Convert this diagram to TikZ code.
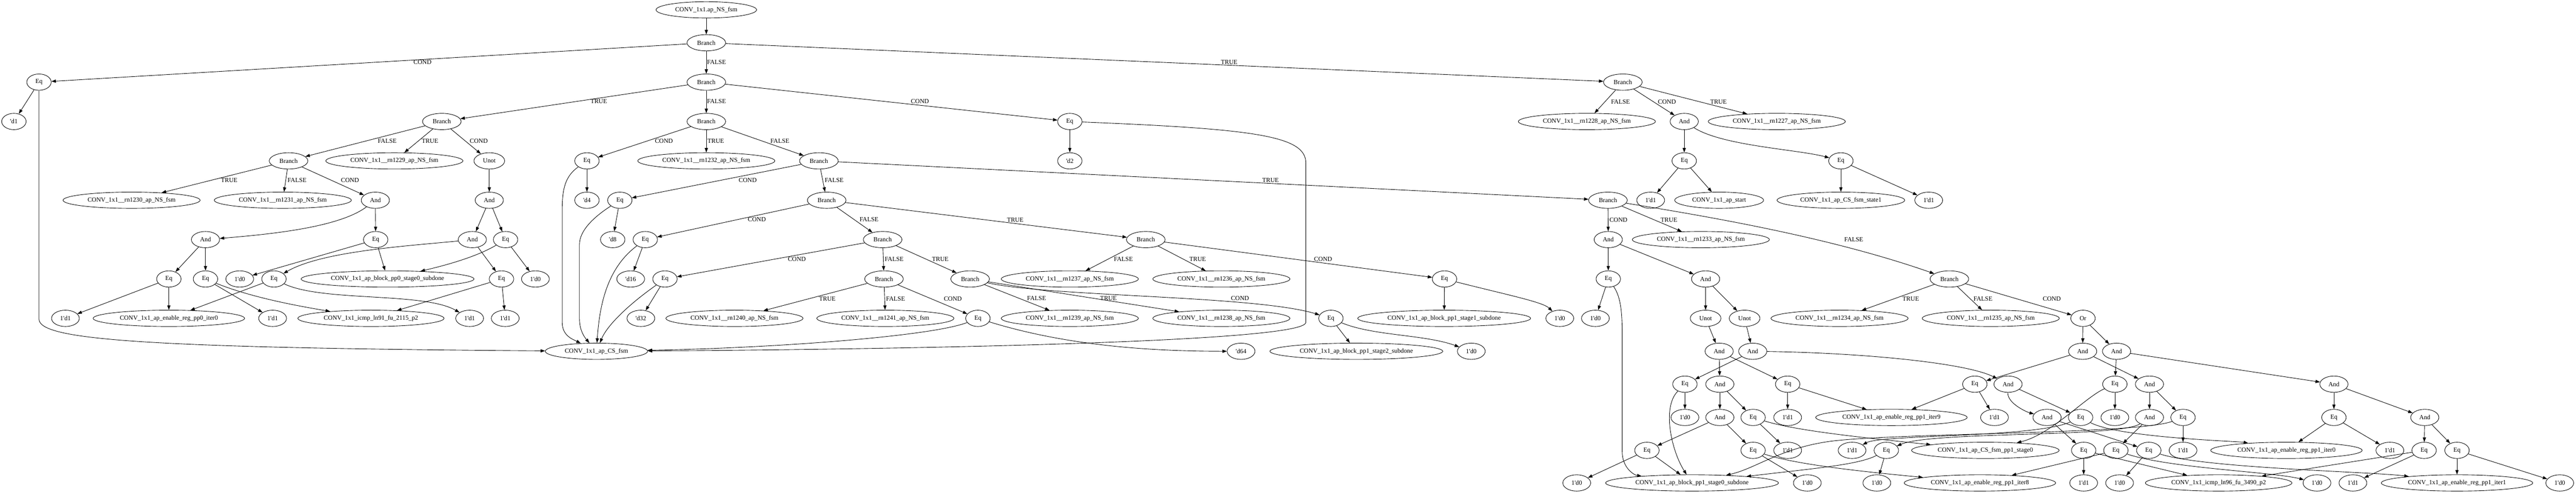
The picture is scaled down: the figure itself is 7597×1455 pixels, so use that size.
\documentclass[tikz,border=0pt]{standalone}
\usepackage{fontspec}
\setmainfont{Liberation Serif}
\usetikzlibrary{arrows.meta, shapes.geometric}
\tikzset{
    gv/.style={draw, ellipse, line width=1pt, minimum width=54pt, minimum height=36pt,
        inner xsep=10pt, inner ysep=3pt, font=\fontsize{14pt}{16.8pt}\selectfont},
    gvedge/.style={-{Triangle[length=10pt,width=7pt]}, line width=1pt},
    gvlab/.style={inner sep=0pt, font=\fontsize{14pt}{16.8pt}\selectfont}
}
\newcommand{\tq}{\textquotesingle}

\begin{document}
\begin{tikzpicture}[x=0.75pt, y=-0.75pt]
    \useasboundingbox (0,0) rectangle (7597,1455);
    % ranks 0-3
    \node[gv] (top) at (2083,29) {CONV\_1x1.ap\_NS\_fsm};
    \node[gv] (b1) at (2083,126) {Branch};
    \node[gv] (eqA) at (115,242) {Eq};
    \node[gv] (b2) at (2083,242) {Branch};
    \node[gv] (b3) at (4786,242) {Branch};
    \node[gv] (dA) at (41,358) {\tq d1};
    \node[gv] (b4) at (1303,358) {Branch};
    \node[gv] (b5) at (2083,358) {Branch};
    \node[gv] (eqB) at (3155,358) {Eq};
    \node[gv] (nsA) at (4680,358) {CONV\_1x1\_\_rn1228\_ap\_NS\_fsm};
    \node[gv] (andA) at (4967,358) {And};
    \node[gv] (nsB) at (5240,358) {CONV\_1x1\_\_rn1227\_ap\_NS\_fsm};
    % rank 4
    \node[gv] (b6) at (851,474) {Branch};
    \node[gv] (nsC) at (1163,474) {CONV\_1x1\_\_rn1229\_ap\_NS\_fsm};
    \node[gv] (unA) at (1443,474) {Unot};
    \node[gv] (eqC) at (1731,474) {Eq};
    \node[gv] (nsD) at (2083,474) {CONV\_1x1\_\_rn1232\_ap\_NS\_fsm};
    \node[gv] (b7) at (2415,474) {Branch};
    \node[gv] (dB) at (3155,474) {\tq d2};
    \node[gv] (eqD) at (4967,474) {Eq};
    \node[gv] (eqE) at (5429,474) {Eq};
    % rank 5
    \node[gv] (nsE) at (388,590) {CONV\_1x1\_\_rn1230\_ap\_NS\_fsm};
    \node[gv] (nsF) at (834,590) {CONV\_1x1\_\_rn1231\_ap\_NS\_fsm};
    \node[gv] (andB) at (1107,590) {And};
    \node[gv] (andC) at (1443,590) {And};
    \node[gv] (dC) at (1731,590) {\tq d4};
    \node[gv] (eqF) at (1828,590) {Eq};
    \node[gv] (b8) at (2438,590) {Branch};
    \node[gv] (b9) at (4742,590) {Branch};
    \node[gv] (cA) at (4868,590) {1\tq d1};
    \node[gv] (sA) at (5070,590) {CONV\_1x1\_ap\_start};
    \node[gv] (sB) at (5429,590) {CONV\_1x1\_ap\_CS\_fsm\_state1};
    \node[gv] (cB) at (5688,590) {1\tq d1};
    % rank 6
    \node[gv] (andD) at (606,706) {And};
    \node[gv] (eqG) at (1108,706) {Eq};
    \node[gv] (andE) at (1393,706) {And};
    \node[gv] (eqH) at (1491,706) {Eq};
    \node[gv] (dD) at (1807,706) {\tq d8};
    \node[gv] (eqI) at (1903,706) {Eq};
    \node[gv] (b10) at (2603,706) {Branch};
    \node[gv] (b11) at (3379,706) {Branch};
    \node[gv] (andF) at (4743,706) {And};
    \node[gv] (nsG) at (5016,706) {CONV\_1x1\_\_rn1233\_ap\_NS\_fsm};
    % rank 7
    \node[gv] (eqJ) at (498,822) {Eq};
    \node[gv] (eqK) at (606,822) {Eq};
    \node[gv] (cC) at (707,822) {1\tq d0};
    \node[gv] (eqL) at (808,822) {Eq};
    \node[gv] (sC) at (1143,822) {CONV\_1x1\_ap\_block\_pp0\_stage0\_subdone};
    \node[gv] (eqM) at (1479,822) {Eq};
    \node[gv] (cD) at (1579,822) {1\tq d0};
    \node[gv] (dE) at (1860,822) {\tq d16};
    \node[gv] (eqN) at (1961,822) {Eq};
    \node[gv] (b12) at (2607,822) {Branch};
    \node[gv] (b13) at (2861,822) {Branch};
    \node[gv] (nsH) at (3155,822) {CONV\_1x1\_\_rn1237\_ap\_NS\_fsm};
    \node[gv] (nsI) at (3602,822) {CONV\_1x1\_\_rn1236\_ap\_NS\_fsm};
    \node[gv] (eqO) at (4260,822) {Eq};
    \node[gv] (eqP) at (4743,822) {Eq};
    \node[gv] (andG) at (5030,822) {And};
    \node[gv] (b14) at (5749,822) {Branch};
    % rank 8
    \node[gv] (cE) at (193,938) {1\tq d1};
    \node[gv] (sD) at (498,938) {CONV\_1x1\_ap\_enable\_reg\_pp0\_iter0};
    \node[gv] (cF) at (804,938) {1\tq d1};
    \node[gv] (sE) at (1094,938) {CONV\_1x1\_icmp\_ln91\_fu\_2115\_p2};
    \node[gv] (cG) at (1385,938) {1\tq d1};
    \node[gv] (cH) at (1490,938) {1\tq d1};
    \node[gv] (dF) at (1890,938) {\tq d32};
    \node[gv] (nsJ) at (2166,938) {CONV\_1x1\_\_rn1240\_ap\_NS\_fsm};
    \node[gv] (nsK) at (2611,938) {CONV\_1x1\_\_rn1241\_ap\_NS\_fsm};
    \node[gv] (eqQ) at (2884,938) {Eq};
    \node[gv] (nsL) at (3155,938) {CONV\_1x1\_\_rn1239\_ap\_NS\_fsm};
    \node[gv] (nsM) at (3602,938) {CONV\_1x1\_\_rn1238\_ap\_NS\_fsm};
    \node[gv] (eqR) at (3925,938) {Eq};
    \node[gv] (sF) at (4259,938) {CONV\_1x1\_ap\_block\_pp1\_stage1\_subdone};
    \node[gv] (cI) at (4600,938) {1\tq d0};
    \node[gv] (cJ) at (4705,938) {1\tq d0};
    \node[gv] (unB) at (5030,938) {Unot};
    \node[gv] (unC) at (5145,938) {Unot};
    \node[gv] (nsN) at (5425,938) {CONV\_1x1\_\_rn1234\_ap\_NS\_fsm};
    \node[gv] (nsO) at (5871,938) {CONV\_1x1\_\_rn1235\_ap\_NS\_fsm};
    \node[gv] (orA) at (6143,938) {Or};
    % rank 9
    \node[gv] (sG) at (1759,1035) {CONV\_1x1\_ap\_CS\_fsm};
    \node[gv] (dG) at (3660,1035) {\tq d64};
    \node[gv] (sH) at (4000,1035) {CONV\_1x1\_ap\_block\_pp1\_stage2\_subdone};
    \node[gv] (cK) at (4339,1035) {1\tq d0};
    \node[gv] (andH) at (5070,1035) {And};
    \node[gv] (andI) at (5169,1035) {And};
    \node[gv] (andJ) at (6142,1035) {And};
    \node[gv] (andK) at (6242,1035) {And};
    % rank 10
    \node[gv] (eqS) at (4969,1132) {Eq};
    \node[gv] (andL) at (5072,1132) {And};
    \node[gv] (eqT) at (5272,1132) {Eq};
    \node[gv] (eqU) at (5824,1132) {Eq};
    \node[gv] (andM) at (5922,1132) {And};
    \node[gv] (eqV) at (6237,1132) {Eq};
    \node[gv] (andN) at (6339,1132) {And};
    \node[gv] (andO) at (6883,1132) {And};
    % rank 11
    \node[gv] (cL) at (4969,1230) {1\tq d0};
    \node[gv] (andP) at (5072,1230) {And};
    \node[gv] (eqW) at (5170,1230) {Eq};
    \node[gv] (cM) at (5272,1230) {1\tq d1};
    \node[gv] (sI) at (5578,1230) {CONV\_1x1\_ap\_enable\_reg\_pp1\_iter9};
    \node[gv] (cN) at (5882,1230) {1\tq d1};
    \node[gv] (andQ) at (6037,1230) {And};
    \node[gv] (eqX) at (6136,1230) {Eq};
    \node[gv] (cO) at (6237,1230) {1\tq d0};
    \node[gv] (andR) at (6339,1230) {And};
    \node[gv] (eqY) at (6438,1230) {Eq};
    \node[gv] (eqZ) at (6883,1230) {Eq};
    \node[gv] (andS) at (7151,1230) {And};
    % rank 12
    \node[gv] (eqAA) at (4857,1327) {Eq};
    \node[gv] (eqAB) at (5170,1327) {Eq};
    \node[gv] (cP) at (5272,1327) {1\tq d1};
    \node[gv] (cQ) at (5462,1327) {1\tq d1};
    \node[gv] (eqAC) at (5563,1327) {Eq};
    \node[gv] (sJ) at (5855,1327) {CONV\_1x1\_ap\_CS\_fsm\_pp1\_stage0};
    \node[gv] (eqAD) at (6145,1327) {Eq};
    \node[gv] (eqAE) at (6240,1327) {Eq};
    \node[gv] (eqAF) at (6337,1327) {Eq};
    \node[gv] (cR) at (6438,1327) {1\tq d1};
    \node[gv] (sK) at (6743,1327) {CONV\_1x1\_ap\_enable\_reg\_pp1\_iter0};
    \node[gv] (cS) at (7048,1327) {1\tq d1};
    \node[gv] (eqAG) at (7149,1327) {Eq};
    \node[gv] (eqAH) at (7246,1327) {Eq};
    % rank 13
    \node[gv] (cT) at (4650,1423) {1\tq d0};
    \node[gv] (sL) at (4990,1423) {CONV\_1x1\_ap\_block\_pp1\_stage0\_subdone};
    \node[gv] (cU) at (5330,1423) {1\tq d0};
    \node[gv] (cV) at (5535,1423) {1\tq d0};
    \node[gv] (sM) at (5839,1423) {CONV\_1x1\_ap\_enable\_reg\_pp1\_iter8};
    \node[gv] (cW) at (6145,1423) {1\tq d1};
    \node[gv] (cX) at (6251,1423) {1\tq d0};
    \node[gv] (sN) at (6543,1423) {CONV\_1x1\_icmp\_ln96\_fu\_3490\_p2};
    \node[gv] (cY) at (6833,1423) {1\tq d0};
    \node[gv] (cZ) at (6939,1423) {1\tq d1};
    \node[gv] (sO) at (7246,1423) {CONV\_1x1\_ap\_enable\_reg\_pp1\_iter1};
    \node[gv] (cAA) at (7549,1423) {1\tq d0};

    % edge labels
    \foreach \x/\y/\t [count=\i] in {1246/183/COND, 2113/183/FALSE, 3625/183/TRUE,
        1766/299/TRUE, 2113/299/FALSE, 2713/299/COND,
        4779/300/FALSE, 4916/300/COND, 5068/300/TRUE,
        1142/415/FALSE, 1268/415/TRUE, 1412/415/COND,
        1958/415/COND, 2111/415/TRUE, 2300/415/FALSE,
        676/531/TRUE, 876/531/FALSE, 1032/531/COND,
        2205/531/COND, 2460/531/FALSE, 3747/531/TRUE,
        2232/647/COND, 2563/647/FALSE, 2994/648/TRUE,
        4773/648/COND, 4922/648/TRUE, 5467/705/FALSE,
        2350/763/COND, 2637/763/FALSE, 2773/763/TRUE,
        3313/764/FALSE, 3532/764/TRUE, 3902/764/COND,
        2440/880/TRUE, 2641/880/FALSE, 2810/880/COND,
        3057/879/FALSE, 3269/879/TRUE, 3657/879/COND,
        5635/880/TRUE, 5848/880/FALSE, 6051/880/COND}
        \node[gvlab] (lab\i) at (\x,\y) {\t};

    % straight edges
    \foreach \a/\b in {top/b1, b1/eqA, b1/b2, b1/b3, eqA/dA, b2/b4, b2/b5, b2/eqB,
        b4/b6, b4/nsC, b4/unA, b5/eqC, b5/nsD, b5/b7, eqB/dB, b3/nsA, b3/andA, b3/nsB,
        andA/eqD, eqD/cA, eqD/sA, eqE/sB, eqE/cB, b6/nsE, b6/nsF, b6/andB, unA/andC,
        eqC/dC, b7/eqF, b7/b8, b7/b9, andB/eqG, andC/andE, andC/eqH, eqF/dD,
        b8/eqI, b8/b10, b8/b11, b9/andF, b9/nsG, andD/eqJ, andD/eqK, eqG/cC, eqG/sC,
        andE/eqM, eqH/cD, eqI/dE, b10/eqN, b10/b12, b10/b13, b11/nsH, b11/nsI, b11/eqO,
        andF/eqP, andF/andG, eqJ/cE, eqJ/sD, eqK/cF, eqL/sD, eqM/sE, eqM/cH, eqN/dF,
        b12/nsJ, b12/nsK, b12/eqQ, b13/nsL, b13/nsM, eqO/sF, eqP/cJ, andG/unB, andG/unC,
        b14/nsN, b14/nsO, b14/orA, eqR/sH, unB/andH, unC/andI, orA/andJ, orA/andK,
        andH/andL, andH/eqT, andI/eqS, andJ/eqU, andJ/andN, andK/eqV, andK/andO,
        eqS/cL, andL/andP, andL/eqW, eqT/cM, eqT/sI, eqU/sI, eqU/cN, andM/eqX, eqV/cO,
        andN/andR, andN/eqY, andO/eqZ, andO/andS, andP/eqAA, andP/eqAB, eqW/cP,
        andQ/eqAD, andQ/eqAF, andR/eqAE, eqY/cR, eqZ/sK, eqZ/cS, andS/eqAG, andS/eqAH,
        eqAA/cT, eqAA/sL, eqAB/cU, eqAC/cV, eqAD/cW, eqAD/sN, eqAE/sM, eqAF/cX,
        eqAG/sN, eqAG/cZ, eqAH/sO, eqAH/cAA}
        \draw[gvedge] (\a) -- (\b);

    % curved edges
    \draw[gvedge] (andA) .. controls (5080,430) and (5300,440) .. (eqE);
    \draw[gvedge] (b9) .. controls (5050,640) and (5400,700) .. (b14);
    \draw[gvedge] (andB) .. controls (1000,670) and (800,690) .. (andD);
    \draw[gvedge] (andE) .. controls (1200,725) and (950,740) .. (eqL);
    \draw[gvedge] (eqH) .. controls (1400,760) and (1300,785) .. (sC);
    \draw[gvedge] (eqK) .. controls (750,880) and (900,905) .. (sE);
    \draw[gvedge] (eqL) .. controls (950,890) and (1250,860) .. (cG);
    \draw[gvedge] (b13) .. controls (3100,875) and (3700,870) .. (eqR);
    \draw[gvedge] (eqO) .. controls (4450,870) and (4550,890) .. (cI);
    \draw[gvedge] (eqP) .. controls (4784,880) and (4784,940) .. (4784,1000) -- (4784,1330) .. controls (4784,1380) and (4820,1400) .. (sL);
    \draw[gvedge] (eqQ) .. controls (2750,990) and (2300,1025) .. (sG);
    \draw[gvedge] (eqQ) .. controls (3150,1020) and (3400,1035) .. (dG);
    \draw[gvedge] (eqR) .. controls (4050,990) and (4200,985) .. (cK);
    \draw[gvedge] (eqA) -- (115,940) .. controls (115,1000) and (400,1025) .. (sG);
    \draw[gvedge] (eqB) .. controls (3700,380) and (3851,400) .. (3851,480) -- (3851,950) .. controls (3851,1010) and (2600,1030) .. (sG);
    \draw[gvedge] (eqC) .. controls (1665,520) and (1658,560) .. (1658,620) -- (1658,950) .. controls (1658,990) and (1690,1000) .. (sG);
    \draw[gvedge] (eqF) .. controls (1750,640) and (1709,680) .. (1709,720) -- (1709,940) .. controls (1709,975) and (1725,995) .. (sG);
    \draw[gvedge] (eqI) .. controls (1790,790) and (1768,900) .. (sG);
    \draw[gvedge] (eqN) .. controls (1850,900) and (1790,960) .. (sG);
    \draw[gvedge] (andI) .. controls (5500,1040) and (5800,1070) .. (andM);
    \draw[gvedge] (andM) .. controls (5920,1190) and (5980,1215) .. (andQ);
    \draw[gvedge] (eqS) .. controls (4900,1200) and (4930,1330) .. (sL);
    \draw[gvedge] (eqW) .. controls (5300,1270) and (5500,1290) .. (sJ);
    \draw[gvedge] (eqAB) .. controls (5300,1370) and (5500,1390) .. (sM);
    \draw[gvedge] (eqY) .. controls (6300,1280) and (5600,1275) .. (5400,1300) .. controls (5250,1320) and (5180,1380) .. (sL);
    \draw[gvedge] (eqAC) .. controls (5480,1370) and (5350,1380) .. (sL);
    \draw[gvedge] (andR) .. controls (6250,1290) and (5700,1270) .. (eqAC);
    \draw[gvedge] (eqX) .. controls (6000,1290) and (5550,1280) .. (cQ);
    \draw[gvedge] (eqX) .. controls (6250,1290) and (6600,1300) .. (sK);
    \draw[gvedge] (eqV) .. controls (6150,1170) and (6050,1280) .. (sJ);
    \draw[gvedge] (eqAE) .. controls (6400,1380) and (6700,1390) .. (cY);
    \draw[gvedge] (eqAF) .. controls (6500,1380) and (7000,1390) .. (sO);
\end{tikzpicture}
\end{document}
